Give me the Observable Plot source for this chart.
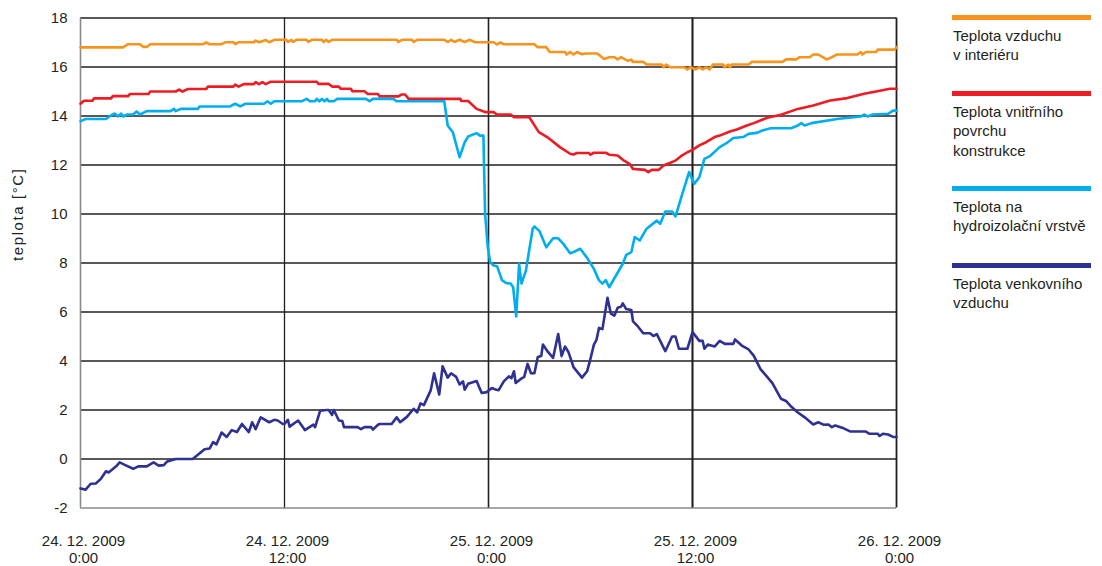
<!DOCTYPE html>
<html>
<head>
<meta charset="utf-8">
<script src="https://cdn.jsdelivr.net/npm/d3@7"></script>
<script src="https://cdn.jsdelivr.net/npm/@observablehq/plot@0.6"></script>
<style>
  html, body { margin: 0; padding: 0; background: #fff; }
  #wrap { position: relative; width: 1102px; height: 566px; font-family: "Liberation Sans", Arial, Helvetica, sans-serif; color: #231f20; }
  #legend { position: absolute; left: 0; top: 0; }
  .bar { position: absolute; left: 952px; width: 139px; height: 5px; }
  .ltxt { position: absolute; left: 953px; font-size: 15px; line-height: 19.3px; white-space: nowrap; color: #231f20; }
</style>
</head>
<body>
<div id="wrap"><div id="chart"></div><div id="legend"></div></div>
<script>
// ---- data (hours since 24.12.2009 0:00, temperature °C) ----
const seriesNames = ["Teplota vzduchu\nv interiéru", "Teplota vnitřního\npovrchu\nkonstrukce", "Teplota na\nhydroizolační vrstvě", "Teplota venkovního\nvzduchu"];
const seriesColors = ["#F7941D", "#ED1C24", "#00AEEF", "#2E3192"];

const tInterior = [0,2.5,2.8,3.5,3.7,3.9,4.1,7.2,7.4,7.6,8.3,8.5,9.0,9.1,9.3,10.2,10.3,10.5,10.9,11.1,11.4,12.1,12.2,12.4,12.5,12.7,13.3,13.4,13.6,14.2,14.3,14.45,14.6,14.8,18.6,18.7,18.9,19.5,19.6,19.8,21.4,21.6,21.8,22.0,22.3,22.6,22.9,23.2,24.3,24.5,24.7,24.9,26.7,26.9,27.4,27.6,28.5,28.6,28.8,29.0,29.2,29.5,29.7,30.4,30.8,31.1,31.4,31.6,31.8,32.2,32.4,32.5,33.1,33.3,34.2,34.3,34.45,34.7,35.5,35.7,35.9,36.2,36.4,36.6,36.8,37.0,37.2,37.8,37.9,38.1,38.2,38.3,39.3,39.5,41.3,41.5,42.1,42.3,42.9,43.1,43.4,43.9,44.2,44.5,45.7,45.9,46.0,46.2,46.8,46.9,47.9,48];
const vInterior = [16.8,16.8,16.93,16.93,16.82,16.82,16.93,16.93,17.0,16.93,16.93,17.01,17.01,16.93,17.01,17.01,17.08,17.01,17.1,17.01,17.11,17.11,17.02,17.11,17.02,17.11,17.11,17.02,17.11,17.11,17.02,17.11,17.02,17.11,17.11,17.02,17.11,17.11,17.02,17.11,17.11,17.02,17.11,17.02,17.11,17.02,17.11,17.01,17.01,16.92,17.0,16.93,16.93,16.81,16.81,16.61,16.61,16.51,16.61,16.51,16.61,16.52,16.55,16.55,16.33,16.4,16.4,16.31,16.4,16.25,16.3,16.21,16.21,16.1,16.1,15.99,16.1,15.99,15.99,15.9,15.99,15.9,15.99,15.9,15.99,15.9,16.1,16.1,15.99,16.1,15.99,16.1,16.1,16.21,16.21,16.31,16.31,16.4,16.4,16.51,16.51,16.31,16.4,16.51,16.51,16.61,16.51,16.61,16.61,16.71,16.71,16.81];

const tSurface = [0,0.2,0.7,0.8,1.8,1.9,2.8,2.9,4.0,4.1,5.6,5.8,6.0,6.3,7.4,7.5,9.0,9.1,9.3,9.6,10.2,10.3,10.5,10.7,10.9,11.2,13.9,14.0,14.6,14.8,15.2,15.3,15.9,16.0,16.7,16.9,17.5,17.6,18.7,18.9,19.1,19.3,22.35,22.4,22.8,23.3,23.8,24.3,24.5,25.3,25.5,26.4,26.96,27.45,28.2,28.8,29.0,29.2,29.9,30.0,30.2,30.9,31.1,31.6,31.9,32.3,32.5,33.2,33.4,33.6,34.0,34.3,34.7,35.0,35.3,35.7,36.0,36.4,36.8,37.3,37.6,38.2,38.6,39.2,39.6,40.4,41.2,42.2,43.1,44.1,45.1,46.1,47.1,47.6,48];
const vSurface = [14.5,14.62,14.62,14.72,14.72,14.81,14.81,14.9,14.9,15.0,15.0,15.08,15.0,15.1,15.1,15.2,15.2,15.28,15.2,15.3,15.3,15.38,15.3,15.38,15.3,15.4,15.4,15.31,15.31,15.2,15.2,15.11,15.11,15.01,15.01,14.9,14.9,14.8,14.8,14.88,14.88,14.7,14.7,14.61,14.61,14.29,14.16,14.16,14.06,14.06,13.95,13.95,13.34,13.14,12.73,12.46,12.43,12.49,12.49,12.42,12.5,12.5,12.42,12.39,12.21,12.05,11.84,11.8,11.71,11.8,11.8,11.98,12.09,12.18,12.35,12.52,12.62,12.8,12.93,13.14,13.2,13.37,13.45,13.61,13.71,13.93,14.05,14.29,14.43,14.63,14.73,14.91,15.04,15.11,15.11];

const tLayer = [0,0.3,1.5,1.8,2.0,2.2,2.4,2.5,2.75,3.1,3.3,3.5,3.9,5.3,5.5,5.6,5.9,6.9,7.0,8.8,9.1,9.4,9.7,10.8,11.0,11.2,11.4,13.0,13.3,13.5,13.8,13.9,14.05,14.2,14.35,14.5,14.6,14.9,15.1,16.8,17.0,17.2,18.4,18.6,21.4,21.6,21.9,22.3,22.6,22.8,23.3,23.5,23.7,23.8,23.96,24.1,24.3,24.5,24.8,25.06,25.3,25.45,25.63,25.8,25.94,26.2,26.6,26.7,27.0,27.4,27.8,28.1,28.4,28.8,28.98,29.4,29.8,30.2,30.5,30.7,30.9,31.1,31.5,31.9,32.1,32.4,32.6,32.9,33.3,33.9,34.1,34.4,34.8,35.0,35.4,35.8,36.1,36.4,36.7,37.0,37.6,38.0,38.4,38.98,39.3,39.8,40.1,40.6,41.8,42.2,42.4,42.6,43.0,44.5,45.9,46.1,46.3,46.6,47.5,47.8,48];
const vLayer = [13.79,13.88,13.88,14.03,14.1,13.98,14.1,13.98,14.06,14.06,14.18,14.06,14.2,14.2,14.29,14.2,14.29,14.29,14.39,14.39,14.5,14.39,14.5,14.5,14.6,14.5,14.6,14.6,14.7,14.6,14.6,14.7,14.6,14.7,14.6,14.7,14.6,14.6,14.7,14.7,14.6,14.7,14.7,14.6,14.6,13.61,13.34,12.32,12.93,13.16,13.3,13.2,13.2,10.0,8.64,8.03,7.9,7.87,7.29,7.18,7.16,7.01,5.82,7.97,7.16,7.69,9.4,9.49,9.3,8.64,9.01,9.01,8.78,8.4,8.44,8.58,8.21,7.76,7.29,7.16,7.3,7.01,7.49,7.97,8.33,8.44,9.06,8.92,9.4,9.73,9.6,10.1,10.1,9.9,10.82,11.71,11.23,11.5,12.25,12.35,12.73,12.89,13.1,13.14,13.27,13.31,13.41,13.5,13.5,13.61,13.71,13.61,13.71,13.88,13.98,14.06,13.98,14.06,14.09,14.22,14.22];

const tOutdoor = [0,0.3,0.6,0.9,1.2,1.5,1.65,2.1,2.3,2.7,3.1,3.4,3.9,4.3,4.6,4.9,5.1,5.6,6.6,7.3,7.6,7.8,8.0,8.3,8.6,8.9,9.2,9.5,9.9,10.1,10.3,10.6,11.1,11.4,11.6,11.9,12.0,12.2,12.3,12.8,13.2,13.7,13.8,14.1,14.5,14.6,14.8,14.9,15.2,15.4,15.5,16.3,16.5,16.7,17.1,17.2,17.5,17.6,18.3,18.6,18.8,19.2,19.6,19.8,20.0,20.2,20.6,20.8,21.1,21.3,21.6,21.8,22.1,22.3,22.5,22.6,22.8,23.3,23.6,23.9,24.2,24.4,24.6,24.9,25.2,25.35,25.5,25.6,25.9,26.1,26.3,26.5,26.7,26.9,27.1,27.2,27.5,27.8,28.1,28.3,28.5,28.7,29.0,29.5,29.8,30.0,30.2,30.35,30.5,30.7,30.8,31.0,31.2,31.4,31.6,31.8,31.9,32.1,32.4,32.5,32.8,33.1,33.5,33.7,33.9,34.4,34.8,35.0,35.2,35.7,36.0,36.4,36.6,36.7,36.9,37.3,37.6,37.9,38.4,38.5,38.9,39.3,39.6,40.0,40.7,41.2,41.5,41.8,42.2,42.6,43.1,43.4,43.7,44.0,44.2,44.4,44.8,45.3,46.2,46.4,46.9,47.0,47.2,47.5,47.8,48];
const vOutdoor = [-1.2,-1.25,-1.01,-1.0,-0.81,-0.5,-0.55,-0.3,-0.14,-0.27,-0.4,-0.3,-0.3,-0.14,-0.27,-0.25,-0.1,0,0,0.4,0.43,0.69,0.6,1.08,0.9,1.18,1.1,1.43,1.1,1.5,1.22,1.7,1.5,1.6,1.57,1.43,1.43,1.6,1.32,1.57,1.18,1.4,1.3,1.97,2.0,2.0,1.8,2.0,1.57,1.55,1.3,1.3,1.22,1.3,1.3,1.2,1.4,1.43,1.43,1.7,1.5,1.72,2.05,1.9,2.27,2.2,2.8,3.5,2.63,3.78,3.32,3.5,3.35,3.04,3.17,2.83,3.07,3.18,2.69,2.73,2.9,2.84,2.81,3.17,3.37,3.3,3.58,3.1,3.27,3.35,3.88,3.5,3.5,4.16,4.2,4.67,4.37,4.13,5.1,4.2,4.59,4.37,3.75,3.32,3.58,4.1,4.67,4.86,5.35,5.3,5.72,6.58,5.93,5.85,6.17,6.22,6.35,6.12,6.08,5.62,5.4,5.13,5.13,5.02,5.1,4.4,5.0,5.0,4.5,4.5,5.18,4.82,4.82,4.5,4.67,4.59,4.82,4.7,4.7,4.88,4.63,4.47,4.22,3.67,3.1,2.46,2.37,2.14,1.9,1.7,1.41,1.5,1.4,1.41,1.3,1.37,1.28,1.12,1.12,1.03,1.03,0.94,1.03,1.0,0.9,0.9];

const yTicks = [-2,0,2,4,6,8,10,12,14,16,18];
const xTicks = [0,12,24,36,48];
const xTickDates = ["24. 12. 2009", "24. 12. 2009", "25. 12. 2009", "25. 12. 2009", "26. 12. 2009"];
const xTickTimes = ["0:00", "12:00", "0:00", "12:00", "0:00"];
const yLabel = "teplota [°C]";

// ---- build ----
const seriesT = [tInterior, tSurface, tLayer, tOutdoor];
const seriesV = [vInterior, vSurface, vLayer, vOutdoor];
const rows = seriesT.map((ts, k) => ts.map((t, i) => ({t, v: seriesV[k][i]})));
const gridW = {12: 1.3, 24: 1.6, 36: 2.1, 48: 1.8};
const ink = "#231f20";

const chart = Plot.plot({
  width: 1102, height: 566,
  marginLeft: 80, marginRight: 206, marginTop: 17.5, marginBottom: 58.5,
  x: {domain: [0, 48]},
  y: {domain: [-2, 18]},
  style: {fontFamily: "'Liberation Sans', Arial, Helvetica, sans-serif", fontSize: "15px", color: ink, background: "white"},
  marks: [
    Plot.ruleY(yTicks.filter(d => d > -2), {y: d => d, stroke: ink, strokeWidth: 1.6}),
    Plot.ruleY([-2], {stroke: "#8a8a8a", strokeWidth: 1.6}),
    Plot.ruleX(xTicks.filter(d => d > 0), {x: d => d, stroke: ink, strokeWidth: d => gridW[d]}),
    Plot.ruleX([0], {stroke: "#8a8a8a", strokeWidth: 1.6}),
    ...rows.map((r, k) => Plot.line(r, {x: "t", y: "v", stroke: seriesColors[k], strokeWidth: 2.6, strokeLinejoin: "round"})),
    Plot.axisY(yTicks, {tickSize: 0, tickPadding: 13, label: null, fontSize: 15, tickFormat: d => String(d)}),
    Plot.axisX([], {label: null}),
    Plot.text(xTicks, {x: d => d, frameAnchor: "bottom", text: (d, i) => xTickDates[i], dx: 3, dy: 37.5, lineAnchor: "bottom", fontSize: 15, fill: ink}),
    Plot.text(xTicks, {x: d => d, frameAnchor: "bottom", text: (d, i) => xTickTimes[i], dx: 3, dy: 54.5, lineAnchor: "bottom", fontSize: 15, fill: ink}),
    Plot.text([yLabel], {frameAnchor: "left", text: d => d, dx: -62, dy: -2, rotate: -90, fontSize: 15, fill: ink})
  ]
});
chart.querySelectorAll("text").forEach(el => {
  if (el.textContent === yLabel) el.setAttribute("letter-spacing", "1.6");
});
document.getElementById("chart").appendChild(chart);

// ---- legend ----
const legend = document.getElementById("legend");
const barY = [17.3, 93.5, 188.3, 265];
seriesNames.forEach((name, k) => {
  const bar = document.createElement("div");
  bar.className = "bar";
  bar.style.top = (barY[k] - 2.5) + "px";
  bar.style.background = seriesColors[k];
  legend.appendChild(bar);
  const txt = document.createElement("div");
  txt.className = "ltxt";
  txt.style.top = (barY[k] + 8.7) + "px";
  txt.innerHTML = name.split("\n").join("<br>");
  legend.appendChild(txt);
});
</script>
</body>
</html>
